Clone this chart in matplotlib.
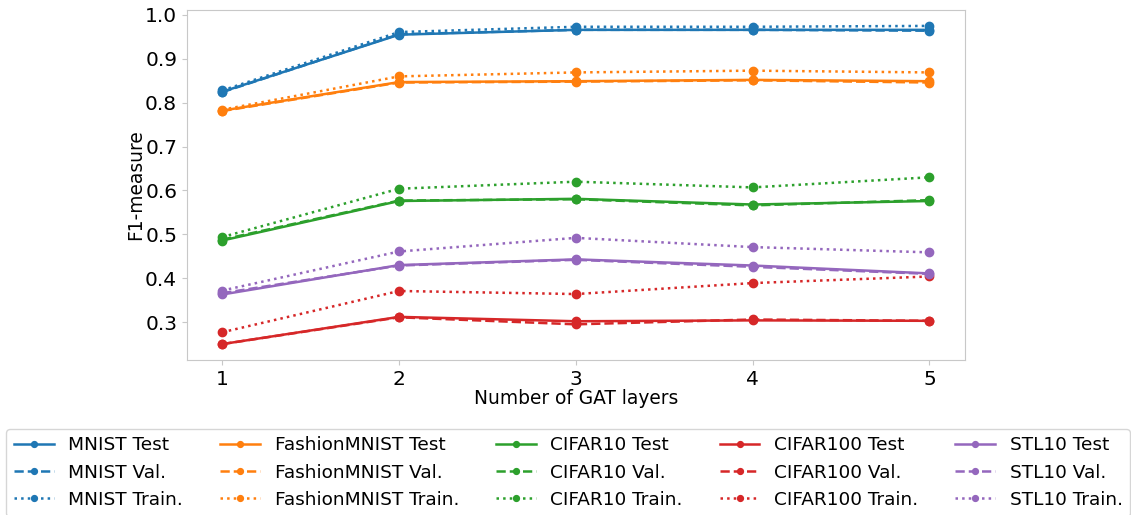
import matplotlib
matplotlib.use("Agg")
import matplotlib.pyplot as plt

# F1 scores per dataset and split, for 1..5 GAT layers
layers = [1, 2, 3, 4, 5]
datasets = ["MNIST", "FashionMNIST", "CIFAR10", "CIFAR100", "STL10"]
colors = ["#1f77b4", "#ff7f0e", "#2ca02c", "#d62728", "#9467bd"]

mnist_test = [0.825, 0.955, 0.966, 0.966, 0.966]
mnist_val = [0.824, 0.956, 0.966, 0.966, 0.964]
mnist_train = [0.828, 0.961, 0.973, 0.973, 0.975]

fashion_test = [0.782, 0.847, 0.849, 0.852, 0.849]
fashion_val = [0.781, 0.846, 0.848, 0.851, 0.846]
fashion_train = [0.784, 0.860, 0.869, 0.873, 0.869]

cifar10_test = [0.486, 0.576, 0.581, 0.568, 0.576]
cifar10_val = [0.488, 0.577, 0.580, 0.566, 0.578]
cifar10_train = [0.494, 0.604, 0.620, 0.607, 0.630]

cifar100_test = [0.250, 0.312, 0.302, 0.304, 0.303]
cifar100_val = [0.250, 0.311, 0.295, 0.306, 0.303]
cifar100_train = [0.277, 0.371, 0.364, 0.389, 0.404]

stl10_test = [0.363, 0.430, 0.443, 0.429, 0.411]
stl10_val = [0.366, 0.429, 0.442, 0.426, 0.410]
stl10_train = [0.372, 0.461, 0.492, 0.471, 0.459]

results = {
    "MNIST": (mnist_test, mnist_val, mnist_train),
    "FashionMNIST": (fashion_test, fashion_val, fashion_train),
    "CIFAR10": (cifar10_test, cifar10_val, cifar10_train),
    "CIFAR100": (cifar100_test, cifar100_val, cifar100_train),
    "STL10": (stl10_test, stl10_val, stl10_train),
}

splits = [("Test", "-"), ("Val.", "--"), ("Train.", ":")]

edge = "#c8c8c8"

fig = plt.figure(figsize=(11.31, 5.15), dpi=100)
ax = fig.add_axes([0.1653, 0.301, 0.6877, 0.6796])

for name, color in zip(datasets, colors):
    for (split, ls), values in zip(splits, results[name]):
        ax.plot(layers, values, linestyle=ls, color=color, marker="o",
                markersize=6, linewidth=1.8, label=f"{name} {split}")

ax.set_xticks(layers)
ax.set_xlabel("Number of GAT layers", fontsize=13.4, labelpad=0)
ax.set_ylabel("F1-measure", fontsize=13.4, labelpad=0)
for spine in ax.spines.values():
    spine.set_color(edge)
ax.tick_params(colors=edge, labelcolor="black", labelsize=14.5)

# legend sits under the plot, five columns of three rows
handles, labels = ax.get_legend_handles_labels()
fig.legend(handles, labels, ncol=5, loc="upper left",
           bbox_to_anchor=(0.0057, 0.167), borderaxespad=0,
           fontsize=13.3, handlelength=2.15, markerscale=0.7, frameon=True)

fig.savefig("out.png", dpi=100)
